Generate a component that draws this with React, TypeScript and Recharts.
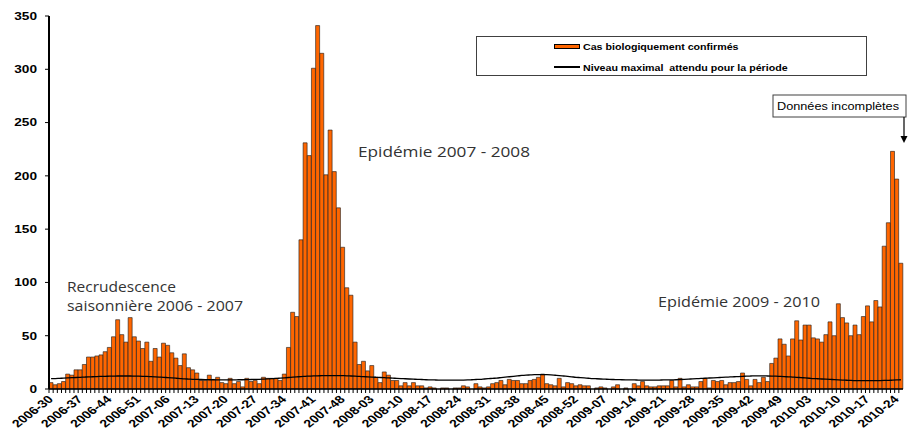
import React from 'react';
import { ComposedChart, Bar, Line, XAxis, YAxis, Legend, Customized } from 'recharts';

// ISO weeks shown on the x axis (2009 has 53 weeks)
const weekRanges = [
  { year: 2006, first: 30, last: 52 },
  { year: 2007, first: 1, last: 52 },
  { year: 2008, first: 1, last: 52 },
  { year: 2009, first: 1, last: 53 },
  { year: 2010, first: 1, last: 25 }
];

const weeks: string[] = weekRanges.flatMap(({ year, first, last }) =>
  Array.from({ length: last - first + 1 }, (_, i) => `${year}-${String(first + i).padStart(2, '0')}`)
);

const tickLabels = [
  '2006-30', '2006-37', '2006-44', '2006-51', '2007-06', '2007-13', '2007-20', '2007-27',
  '2007-34', '2007-41', '2007-48', '2008-03', '2008-10', '2008-17', '2008-24', '2008-31',
  '2008-38', '2008-45', '2008-52', '2009-07', '2009-14', '2009-21', '2009-28', '2009-35',
  '2009-42', '2009-49', '2010-03', '2010-10', '2010-17', '2010-24'
];

const confirmedCases = [
  6, 4, 5, 7, 14, 13, 18, 18, 23, 30,
  30, 31, 32, 35, 39, 49, 65, 51, 44, 67,
  49, 45, 38, 44, 26, 38, 30, 43, 41, 34,
  29, 22, 33, 20, 18, 15, 8, 8, 13, 9,
  11, 6, 5, 10, 5, 7, 2, 10, 7, 8,
  5, 11, 10, 10, 10, 8, 14, 39, 72, 68,
  140, 231, 219, 301, 341, 315, 201, 243, 204, 170,
  133, 95, 88, 44, 23, 26, 17, 22, 11, 6,
  16, 13, 8, 8, 3, 6, 3, 6, 3, 3,
  1, 2, 1, 0, 1, 1, 0, 1, 1, 3,
  2, 0, 5, 2, 1, 2, 5, 6, 8, 4,
  9, 8, 8, 5, 5, 8, 9, 11, 14, 5,
  4, 3, 10, 2, 6, 5, 3, 4, 3, 3,
  0, 1, 2, 1, 0, 2, 4, 0, 1, 0,
  5, 3, 7, 3, 2, 2, 3, 3, 3, 8,
  2, 10, 2, 4, 2, 2, 7, 10, 1, 8,
  7, 8, 4, 6, 6, 7, 15, 9, 3, 9,
  6, 11, 7, 24, 29, 47, 42, 31, 47, 64,
  46, 60, 60, 48, 47, 44, 51, 63, 50, 80,
  67, 62, 50, 60, 51, 68, 78, 63, 83, 77,
  134, 156, 223, 197, 118
];

const expectedMax = [
  9.7, 9.8, 10, 10.2, 10.4, 10.6, 10.8, 11, 11.2, 11.4,
  11.5, 11.7, 11.8, 11.9, 12, 12.1, 12.2, 12.2, 12.2, 12.2,
  12.1, 12, 11.9, 11.8, 11.6, 11.4, 11.2, 11, 10.7, 10.4,
  10.1, 9.8, 9.5, 9.3, 9.1, 9, 8.9, 8.8, 8.7, 8.7,
  8.6, 8.6, 8.6, 8.6, 8.6, 8.7, 8.7, 8.8, 8.9, 9,
  9.1, 9.3, 9.5, 9.7, 9.9, 10.2, 10.5, 10.8, 11.1, 11.4,
  11.7, 11.9, 12.1, 12.3, 12.4, 12.5, 12.6, 12.6, 12.6, 12.6,
  12.5, 12.4, 12.2, 12, 11.8, 11.6, 11.4, 11.2, 11, 10.8,
  10.6, 10.4, 10.2, 10, 9.8, 9.6, 9.4, 9.2, 9, 8.9,
  8.7, 8.6, 8.5, 8.4, 8.4, 8.3, 8.3, 8.3, 8.4, 8.4,
  8.5, 8.7, 8.9, 9.1, 9.4, 9.7, 10, 10.3, 10.7, 11.1,
  11.5, 11.9, 12.3, 12.7, 13, 13.2, 13.4, 13.5, 13.5, 13.4,
  13.2, 12.9, 12.6, 12.2, 11.8, 11.4, 11, 10.7, 10.4, 10.1,
  9.8, 9.6, 9.4, 9.2, 9, 8.9, 8.8, 8.7, 8.6, 8.5,
  8.5, 8.4, 8.4, 8.4, 8.4, 8.4, 8.4, 8.5, 8.5, 8.6,
  8.7, 8.9, 9.1, 9.3, 9.5, 9.7, 9.9, 10.1, 10.3, 10.5,
  10.7, 10.9, 11.1, 11.3, 11.5, 11.7, 11.9, 12.1, 12.2, 12.3,
  12.3, 12.3, 12.2, 12.1, 12, 11.8, 11.6, 11.4, 11.2, 11,
  10.7, 10.4, 10.1, 9.8, 9.6, 9.4, 9.2, 9, 8.8, 8.6,
  8.4, 8.2, 8, 7.9, 7.8, 7.8, 7.8, 7.8, 7.8, 7.9,
  8, 8.1, 8.3, 8.5, 8.7
];

const yTicks = [0, 50, 100, 150, 200, 250, 300, 350];

const data = weeks.map((week, i) => ({
  week,
  cases: confirmedCases[i],
  max: expectedMax[i]
}));

const WIDTH = 912;
const HEIGHT = 432;
const Y_AXIS_W = 49;
const RIGHT = 9;
const BAND = (WIDTH - Y_AXIS_W - RIGHT) / weeks.length;
const AXIS_FONT = '"Liberation Sans", Arial, sans-serif';

const WeekTick = ({ x, y, payload }: any) => {
  const showLabel = tickLabels.includes(payload.value);
  return (
    <g>
      <line x1={x - BAND / 2} x2={x - BAND / 2} y1={y} y2={y + 4} stroke="#000" strokeWidth={1} />
      {showLabel && (
        <g transform={`translate(${x + 3},${y + 11}) scale(1.3,1) rotate(-45)`}>
          <text textAnchor="end" fontSize={10.8} fontWeight="bold" fontFamily={AXIS_FONT} fill="#000">
            {payload.value}
          </text>
        </g>
      )}
    </g>
  );
};

const CountTick = ({ x, y, payload }: any) => (
  <g transform={`translate(${x},${y}) scale(1.3,1)`}>
    <text textAnchor="end" dy="0.36em" fontSize={10.5} fontWeight="bold" fontFamily={AXIS_FONT} fill="#000">
      {payload.value}
    </text>
  </g>
);

const renderLegend = () => (
  <div
    style={{
      width: 391,
      height: 40,
      boxSizing: 'border-box',
      border: '1px solid #404040',
      background: '#fff',
      position: 'relative',
      fontFamily: AXIS_FONT,
      fontWeight: 'bold',
      fontSize: 9.5,
      lineHeight: '10px',
      color: '#000'
    }}
  >
    <div style={{ position: 'absolute', left: 77, top: 7, width: 26, height: 5, boxSizing: 'border-box', background: '#FF6600', border: '1px solid #000' }} />
    <span style={{ position: 'absolute', left: 106, top: 5, whiteSpace: 'nowrap', transform: 'scaleX(1.12)', transformOrigin: 'left' }}>
      Cas biologiquement confirmés
    </span>
    <div style={{ position: 'absolute', left: 77, top: 29, width: 26, height: 1.5, background: '#000' }} />
    <span style={{ position: 'absolute', left: 106, top: 26, whiteSpace: 'pre', transform: 'scaleX(1.12)', transformOrigin: 'left' }}>
      Niveau maximal  attendu pour la période
    </span>
  </div>
);

const Annotations = () => (
  <g fontFamily='"Open Sans", sans-serif' fill="#333">
    <text x={67} y={292} fontSize={14.5} textLength={109} lengthAdjust="spacingAndGlyphs">Recrudescence</text>
    <text x={67} y={311} fontSize={14.5} textLength={176} lengthAdjust="spacingAndGlyphs">saisonnière 2006 - 2007</text>
    <text x={358} y={157} fontSize={14.5} textLength={172} lengthAdjust="spacingAndGlyphs">Epidémie 2007 - 2008</text>
    <text x={658} y={307} fontSize={14.5} textLength={162} lengthAdjust="spacingAndGlyphs">Epidémie 2009 - 2010</text>
    <rect x={773} y={95} width={133} height={22} fill="#fff" stroke="#404040" strokeWidth={1} />
    <text x={777} y={110} fontSize={11} fill="#000" fontFamily={AXIS_FONT} textLength={122} lengthAdjust="spacingAndGlyphs">
      Données incomplètes
    </text>
    <line x1={904} y1={117} x2={904} y2={137} stroke="#000" strokeWidth={1.2} />
    <path d="M900.5 136 L907.5 136 L904 143 Z" fill="#000" />
  </g>
);

export default function App() {
  return (
    <div style={{ position: 'absolute', left: 0, top: 0, width: WIDTH, height: HEIGHT, background: '#fff' }}>
      <ComposedChart
        width={WIDTH}
        height={HEIGHT}
        data={data}
        margin={{ top: 16, right: RIGHT, bottom: 0, left: 0 }}
        barCategoryGap={0}
        barGap={0}
      >
        <XAxis
          dataKey="week"
          interval={0}
          height={43}
          tickLine={false}
          tickSize={0}
          tickMargin={0}
          axisLine={{ stroke: '#000', strokeWidth: 1.5 }}
          tick={(props: any) => <WeekTick {...props} />}
        />
        <YAxis
          width={Y_AXIS_W}
          domain={[0, 350]}
          ticks={yTicks}
          tickSize={4}
          tickMargin={8}
          tickLine={{ stroke: '#000', strokeWidth: 1 }}
          axisLine={{ stroke: '#000', strokeWidth: 2 }}
          tick={(props: any) => <CountTick {...props} />}
        />
        <Legend
          layout="vertical"
          align="center"
          verticalAlign="middle"
          wrapperStyle={{ top: 36, left: 476, width: 391, height: 40 }}
          content={renderLegend}
        />
        <Bar dataKey="cases" name="Cas biologiquement confirmés" fill="#FF6600" stroke="#1a1a1a" strokeWidth={0.6} isAnimationActive={false} />
        <Line
          type="monotone"
          dataKey="max"
          name="Niveau maximal attendu pour la période"
          stroke="#000"
          strokeWidth={1.3}
          dot={false}
          isAnimationActive={false}
        />
        <Customized component={Annotations} />
      </ComposedChart>
    </div>
  );
}
